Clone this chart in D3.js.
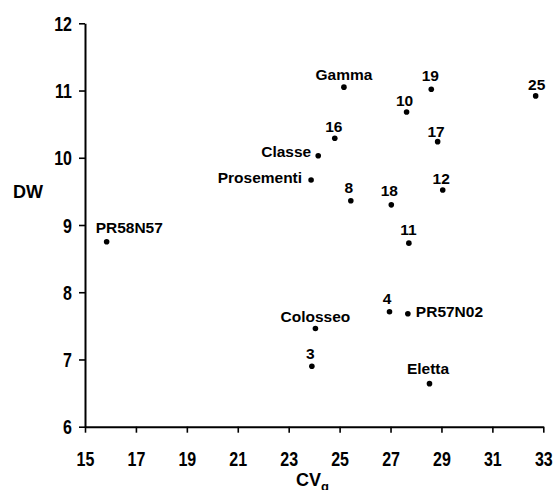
<!DOCTYPE html>
<html>
<head>
<meta charset="utf-8">
<script src="https://cdn.jsdelivr.net/npm/d3@7"></script>
<style>
  body { margin: 0; background: #fff; }
  svg { display: block; }
  .tick text { font-family: "Liberation Sans", Arial, sans-serif; font-weight: bold; font-size: 20px; fill: #000; }
  .lbl { font-family: "Liberation Sans", Arial, sans-serif; font-weight: bold; font-size: 15.5px; fill: #000; }
  .title { font-family: "Liberation Sans", Arial, sans-serif; font-weight: bold; font-size: 18px; fill: #000; }
</style>
</head>
<body>
<div id="vis"></div>
<script>
// genotypes: CVg (x) against DW (y)
var names = ['PR58N57', 'Gamma', '19', '25', '10', '16', '17', 'Classe', 'Prosementi',
  '12', '8', '18', '11', '4', 'PR57N02', 'Colosseo', '3', 'Eletta'];
var cvg = [15.85, 25.17, 28.6, 32.7, 27.63, 24.81, 28.85, 24.16, 23.88,
  29.05, 25.44, 27.03, 27.72, 26.96, 27.68, 24.05, 23.91, 28.53];
var dw = [8.75, 11.05, 11.02, 10.92, 10.68, 10.29, 10.24, 10.03, 9.67,
  9.52, 9.36, 9.30, 8.73, 7.71, 7.68, 7.46, 6.90, 6.64];
var xTicks = [15, 17, 19, 21, 23, 25, 27, 29, 31, 33];
var yTicks = [6, 7, 8, 9, 10, 11, 12];

// where each label sits relative to its dot
var labelPos = {
  'PR58N57': ['start', -11, -9], 'Gamma': ['middle', 0, -7], '19': ['middle', -1, -8.5],
  '25': ['middle', 1, -5.5], '10': ['middle', -2, -6], '16': ['middle', -1, -6],
  '17': ['middle', -1.5, -5], 'Classe': ['end', -7, 1], 'Prosementi': ['end', -9, 3.5],
  '12': ['middle', -1.5, -6.5], '8': ['middle', -2, -7.5], '18': ['middle', -2, -8.5],
  '11': ['middle', -0.5, -8.5], '4': ['middle', -2.5, -7.5], 'PR57N02': ['start', 8, 3.5],
  'Colosseo': ['middle', 0, -6.5], '3': ['middle', -1.5, -7], 'Eletta': ['middle', -1.5, -9.5]
};

var width = 555, height = 490;
var squeeze = 0.8; // tick numbers are set in a condensed face

var svg = d3.select('#vis').append('svg')
  .attr('width', width)
  .attr('height', height);

var x = d3.scaleLinear().domain([15, 33]).range([85, 543.3]);
var y = d3.scaleLinear().domain([6, 12]).range([426.7, 23.3]);

var xAxis = svg.append('g')
  .attr('transform', 'translate(0,' + y(6) + ')')
  .call(d3.axisBottom(x).tickValues(xTicks).tickFormat(d3.format('d'))
    .tickSize(6).tickSizeOuter(0).tickPadding(19));

var yAxis = svg.append('g')
  .attr('transform', 'translate(' + x(15) + ',0)')
  .call(d3.axisLeft(y).tickValues(yTicks).tickFormat(d3.format('d'))
    .tickSize(6).tickSizeOuter(0).tickPadding(7));

svg.selectAll('.domain').attr('stroke', '#000').attr('stroke-width', 2);
svg.selectAll('.tick line').attr('stroke', '#000').attr('stroke-width', 1.6);

xAxis.selectAll('.tick text')
  .attr('transform', 'scale(' + squeeze + ',1)');
yAxis.selectAll('.tick text')
  .attr('dy', '0.36em')
  .attr('x', -13 / squeeze)
  .attr('transform', 'scale(' + squeeze + ',1)');

var points = names.map(function (n, i) { return { name: n, cv: cvg[i], dw: dw[i] }; });

svg.selectAll('.dot')
  .data(points)
  .enter().append('circle')
  .attr('class', 'dot')
  .attr('cx', function (d) { return x(d.cv); })
  .attr('cy', function (d) { return y(d.dw); })
  .attr('r', 2.8)
  .attr('fill', '#000');

svg.selectAll('.lbl')
  .data(points)
  .enter().append('text')
  .attr('class', 'lbl')
  .attr('x', function (d) { return x(d.cv) + labelPos[d.name][1]; })
  .attr('y', function (d) { return y(d.dw) + labelPos[d.name][2]; })
  .attr('text-anchor', function (d) { return labelPos[d.name][0]; })
  .text(function (d) { return d.name; });

// axis titles
svg.append('text')
  .attr('class', 'title')
  .attr('x', 13)
  .attr('y', 198)
  .text('DW');

var xt = svg.append('text')
  .attr('class', 'title')
  .attr('x', 296)
  .attr('y', 486);
xt.append('tspan').text('CV');
xt.append('tspan').attr('dy', 5).style('font-size', '13px').text('g');
</script>
</body>
</html>
